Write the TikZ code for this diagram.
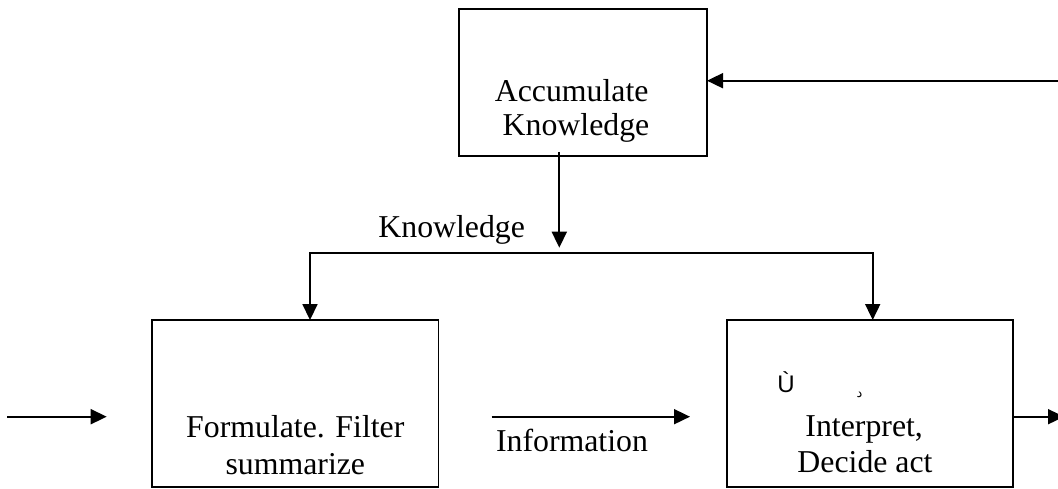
\documentclass[tikz,border=0pt]{standalone}
\usepackage{fontspec}
\setmainfont{Liberation Serif}
\newfontfamily\uisans{Liberation Sans}
\newfontfamily\arabicfont[Script=Arabic]{DejaVu Sans}
\TeXXeTstate=1
\usetikzlibrary{arrows.meta}

\tikzset{
  box/.style={draw, rectangle, line width=1.8pt, inner sep=0pt, outer sep=0pt},
  txt/.style={inner sep=0pt, outer sep=0pt, anchor=base,
              font=\fontsize{31.8}{37}\selectfont},
  tipend/.style={-{Triangle[length=16pt,width=15pt]}},
  arr/.style={line width=1.8pt, tipend},
  twoway/.style={line width=1.8pt,
                 {Triangle[length=16pt,width=15pt]}-{Triangle[length=16pt,width=15pt]}},
}

\begin{document}
\begin{tikzpicture}[x=1pt, y=-1pt]
  % canvas
  \path[fill=white] (0,0) rectangle (1058,489);
  \useasboundingbox (0,0) rectangle (1058,489);

  % process boxes
  \node[box, minimum width=248pt, minimum height=147pt] (acc) at (583,82.5) {};
  \node[box, minimum width=286.5pt, minimum height=167.3pt] (fil) at (295.2,403.7) {};
  \node[box, minimum width=286pt, minimum height=167pt] (int) at (870,403.5) {};

  % box captions
  \node[txt] (acc1) at (571.7,101.7) {Accumulate};
  \node[txt] (acc2) at (576,136) {Knowledge};
  \node[txt] (fil1) at (295.3,437.3) {Formulate. Filter};
  \node[txt] (fil2) at (295.3,474) {summarize};
  \node[txt] (int1) at (864.2,436) {Interpret,};
  \node[txt] (int2) at (865,472.7) {Decide act};
  \node[inner sep=0pt, anchor=base, font=\uisans\fontsize{24}{28}\selectfont]
    (glyph1) at (786,392) {Ù};
  \node[inner sep=0pt, anchor=base, font=\fontsize{13}{15}\selectfont]
    (glyph2) at (859.5,397) {\arabicfont\beginR د\endR};

  % flow labels
  \node[txt] (klabel) at (451.7,237.3) {Knowledge};
  \node[txt] (ilabel) at (572,451) {Information};

  % free connector ends
  \coordinate (fbin) at (1062,80.7);
  \coordinate (k1) at (559.3,247.7);
  \coordinate (bl) at (310,253.3);
  \coordinate (br) at (872.7,253.3);
  \coordinate (in0) at (7,416.7);
  \coordinate (in1) at (106.7,416.7);
  \coordinate (info0) at (491.7,416.7);
  \coordinate (info1) at (690,416.7);
  \coordinate (out1) at (1064,416.7);

  % feedback into the knowledge store
  \draw[arr] (fbin) -- (fbin -| acc.east);
  % knowledge flowing down and splitting
  \draw[arr] ([xshift=-23.7pt,yshift=4pt]acc.south) -- (k1);
  \draw[twoway] (bl |- fil.north) -- (bl) -- (br) -- (br |- int.north);
  % input, information and output
  \draw[arr] (in0) -- (in1);
  \draw[arr] (info0) -- (info1);
  \draw[arr] (out1 -| int.east) -- (out1);
\end{tikzpicture}
\end{document}
